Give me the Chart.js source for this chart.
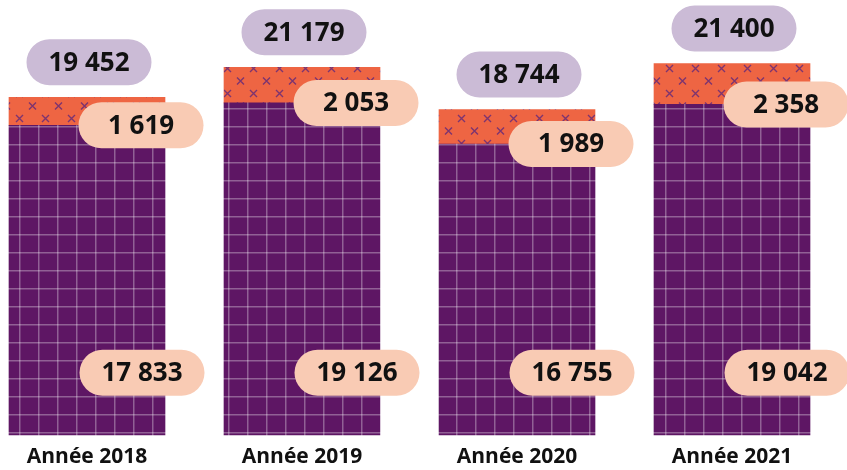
<!DOCTYPE html>
<html>
<head>
<meta charset="utf-8">
<script src="https://cdn.jsdelivr.net/npm/chart.js@4"></script>
<style>
  html, body { margin: 0; padding: 0; background: #fff; }
  #wrap { width: 847px; height: 470px; }
</style>
</head>
<body>
<div id="wrap"><canvas id="chart" width="847" height="470"></canvas></div>
<script>
// Data
const years = ['Année 2018', 'Année 2019', 'Année 2020', 'Année 2021'];
const baseValues = [17833, 19126, 16755, 19042];
const topValues = [1619, 2053, 1989, 2358];
const totals = [19452, 21179, 18744, 21400];

const FONT = "'Open Sans', 'Noto Sans', sans-serif";

// Purple grid pattern
function gridPattern() {
    const c = document.createElement('canvas');
    c.width = 19; c.height = 18;
    const g = c.getContext('2d');
    g.fillStyle = '#5e1664';
    g.fillRect(0, 0, 19, 18);
    g.fillStyle = 'rgba(255, 255, 255, 0.32)';
    g.fillRect(0, 0, 1.5, 18);
    g.fillRect(0, 0, 19, 1.5);
    return g.createPattern(c, 'repeat');
}

// Orange cross pattern
function crossPattern() {
    const c = document.createElement('canvas');
    c.width = 26; c.height = 25;
    const g = c.getContext('2d');
    g.fillStyle = '#ee6543';
    g.fillRect(0, 0, 26, 25);
    g.strokeStyle = '#7d3470';
    g.lineWidth = 1.4;
    [[6.5, 6], [19.5, 18.5]].forEach(([x, y]) => {
        g.beginPath();
        g.moveTo(x - 3.5, y - 3.5); g.lineTo(x + 3.5, y + 3.5);
        g.moveTo(x + 3.5, y - 3.5); g.lineTo(x - 3.5, y + 3.5);
        g.stroke();
    });
    return g.createPattern(c, 'repeat');
}

function fmt(v) {
    return String(v).replace(/\B(?=(\d{3})+(?!\d))/g, ' ');
}

function pill(ctx, cx, cy, text, fill) {
    const w = 125, h = 46, r = h / 2;
    const x = cx - w / 2, y = cy - h / 2;
    ctx.beginPath();
    ctx.moveTo(x + r, y);
    ctx.lineTo(x + w - r, y);
    ctx.arc(x + w - r, y + r, r, -Math.PI / 2, Math.PI / 2);
    ctx.lineTo(x + r, y + h);
    ctx.arc(x + r, y + r, r, Math.PI / 2, Math.PI * 1.5);
    ctx.closePath();
    ctx.fillStyle = fill;
    ctx.fill();
    ctx.fillStyle = '#111';
    ctx.font = '700 26px ' + FONT;
    ctx.textAlign = 'center';
    ctx.textBaseline = 'middle';
    ctx.fillText(text, cx, cy + 1);
}

// Value pills drawn from bar positions
const pillLabels = {
    id: 'pillLabels',
    afterDatasetsDraw(chart) {
        const ctx = chart.ctx;
        const baseMeta = chart.getDatasetMeta(0);
        const topMeta = chart.getDatasetMeta(1);
        const yScale = chart.scales.y;
        ctx.save();
        years.forEach((_, i) => {
            const baseBar = baseMeta.data[i];
            const topBar = topMeta.data[i];
            pill(ctx, topBar.x + 2, topBar.y - 35, fmt(totals[i]), '#cbbbd6');
            pill(ctx, baseBar.x + 54, baseBar.y, fmt(topValues[i]), '#f9cbb4');
            pill(ctx, baseBar.x + 55, yScale.getPixelForValue(0) - 62, fmt(baseValues[i]), '#f9cbb4');
        });
        ctx.restore();
    }
};

const ctx = document.getElementById('chart').getContext('2d');
const chart = new Chart(ctx, {
    type: 'bar',
    data: {
        labels: years,
        datasets: [
            {
                data: baseValues,
                backgroundColor: gridPattern(),
                borderWidth: 0,
                barThickness: 156,
                clip: false
            },
            {
                data: topValues,
                backgroundColor: crossPattern(),
                borderWidth: 0,
                barThickness: 156,
                clip: false
            }
        ]
    },
    options: {
        responsive: false,
        animation: false,
        layout: { padding: { left: 87, right: 115, top: 1, bottom: -10 } },
        scales: {
            x: {
                stacked: true,
                offset: false,
                grid: { display: false, drawTicks: false },
                border: { display: false },
                ticks: {
                    color: '#111',
                    padding: 10,
                    maxRotation: 0,
                    font: { family: FONT, size: 21, weight: '700' }
                }
            },
            y: {
                stacked: true,
                display: false,
                min: 0,
                max: 25000
            }
        },
        plugins: {
            legend: { display: false },
            tooltip: { enabled: false }
        }
    },
    plugins: [pillLabels]
});
</script>
</body>
</html>
